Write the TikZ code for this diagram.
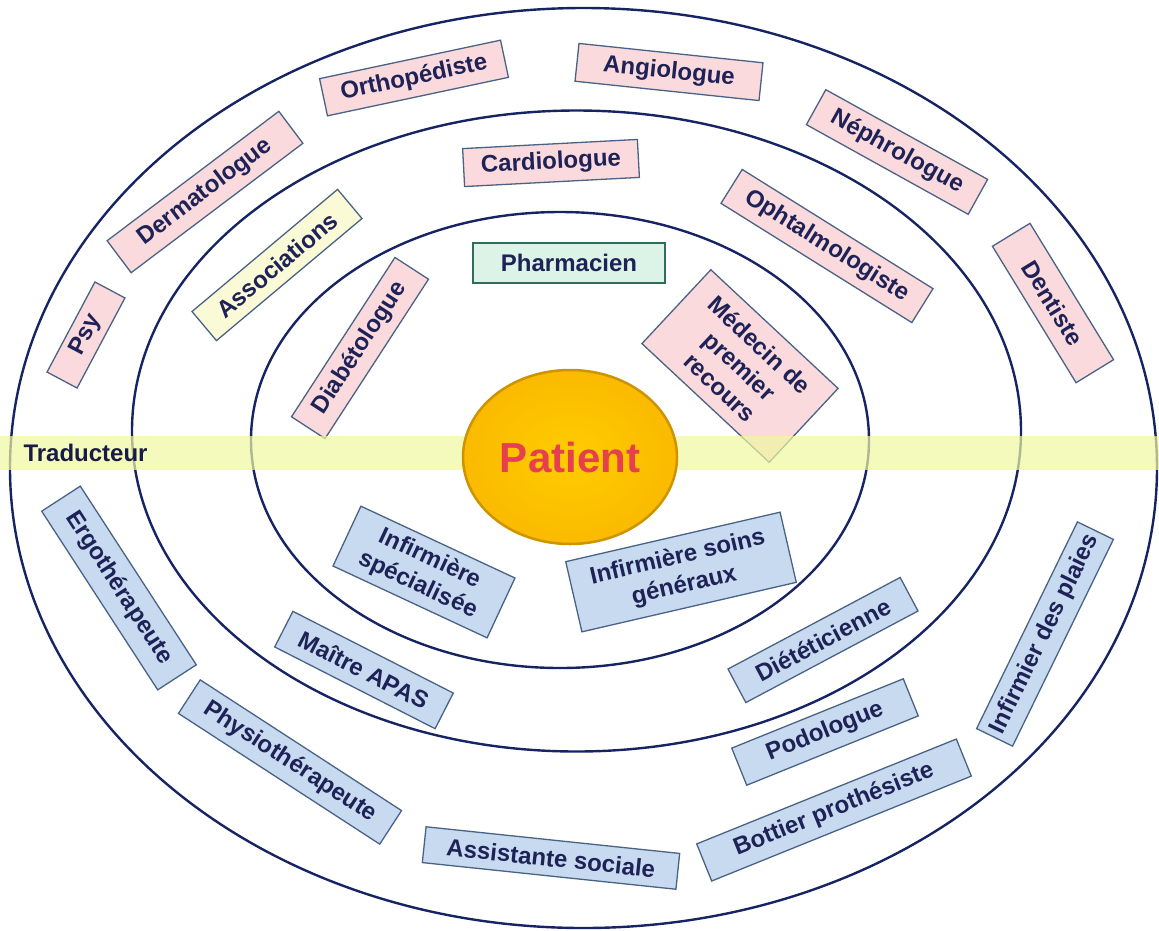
\documentclass[tikz,border=0pt]{standalone}
\usepackage{fontspec}
\setmainfont{Liberation Sans}
\usetikzlibrary{shapes.geometric}
\usetikzlibrary{positioning}

\definecolor{ringblue}{RGB}{22,36,100}
\definecolor{txtblue}{RGB}{30,34,86}
\definecolor{edgeblue}{RGB}{74,98,134}
\definecolor{pinkfill}{RGB}{250,218,220}
\definecolor{bluefill}{RGB}{199,218,240}
\definecolor{greenfill}{RGB}{220,243,231}
\definecolor{greenedge}{RGB}{48,108,92}
\definecolor{yellowfill}{RGB}{250,250,214}
\definecolor{bandyellow}{RGB}{240,247,160}
\definecolor{goldin}{RGB}{255,204,0}
\definecolor{goldout}{RGB}{250,186,0}
\definecolor{goldedge}{RGB}{206,148,0}
\definecolor{patientred}{RGB}{230,64,80}

\begin{document}
\begin{tikzpicture}[x=1pt,y=-1pt,
    ring/.style={draw=ringblue, line width=2.4pt},
    prof/.style={draw=edgeblue, line width=1.3pt, text=txtblue, inner sep=0pt,
        align=center, font=\fontsize{24}{29}\selectfont\bfseries},
    spec/.style={prof, fill=pinkfill},
    care/.style={prof, fill=bluefill}]
    \useasboundingbox (0,0) rectangle (1159,930);

    % Rings
    \draw[ring] (583.5,468) ellipse (573.5 and 460);
    \draw[ring] (576.5,431) ellipse (444.5 and 320.5);
    \draw[ring] (560,440) ellipse (309 and 228);

    % Specialists (upper half)
    \node[spec, minimum width=185pt, minimum height=38pt, rotate=12] (ortho) at (414,78) {Orthopédiste};
    \node[spec, minimum width=185pt, minimum height=38pt, rotate=-6] (angio) at (669,72) {Angiologue};
    \node[spec, minimum width=185pt, minimum height=40pt, rotate=-29] (nephro) at (897,152) {Néphrologue};
    \node[spec, minimum width=215pt, minimum height=40pt, rotate=37] (dermato) at (205,192) {Dermatologue};
    \node[spec, minimum width=175pt, minimum height=38pt, rotate=3] (cardio) at (551,163) {Cardiologue};
    \node[spec, minimum width=225pt, minimum height=40pt, rotate=-32] (ophtalmo) at (827,246) {Ophtalmologiste};
    \node[spec, minimum width=160pt, minimum height=44pt, rotate=-58.5] (dentiste) at (1053,303) {Dentiste};
    \node[spec, minimum width=102pt, minimum height=34pt, rotate=62] (psy) at (86,335) {Psy};
    \node[prof, fill=yellowfill, minimum width=190pt, minimum height=38pt, rotate=40] (assoc) at (277,265) {Associations};
    \node[prof, fill=greenfill, draw=greenedge, minimum width=192pt, minimum height=40pt] (pharma) at (569,263) {Pharmacien};
    \node[spec, minimum width=190pt, minimum height=40pt, rotate=57] (diabeto) at (360,348) {Diabétologue};
    \node[spec, minimum width=174pt, minimum height=101pt, rotate=-43] (medecin) at (740,366) {Médecin de\\premier\\recours};

    % Care team (lower half)
    \node[care, minimum width=170pt, minimum height=66pt, rotate=-25] (infspec) at (424,572) {Infirmière\\spécialisée};
    \node[care, minimum width=220pt, minimum height=72pt, rotate=13] (infsoins) at (681,572) {Infirmière soins\\généraux};
    \node[care, minimum width=213pt, minimum height=46pt, rotate=-57] (ergo) at (119,588) {Ergothérapeute};
    \node[care, minimum width=180pt, minimum height=40pt, rotate=-27] (apas) at (364,670) {Maître APAS};
    \node[care, minimum width=195pt, minimum height=38pt, rotate=28] (diet) at (823,640) {Diététicienne};
    \node[care, minimum width=240pt, minimum height=40pt, rotate=-33] (physio) at (290,762) {Physiothérapeute};
    \node[care, minimum width=185pt, minimum height=40pt, rotate=22] (podo) at (825,732) {Podologue};
    \node[care, minimum width=230pt, minimum height=40pt, rotate=64] (plaies) at (1045,634) {Infirmier des plaies};
    \node[care, minimum width=280pt, minimum height=40pt, rotate=22] (bottier) at (834,810) {Bottier prothésiste};
    \node[care, minimum width=255pt, minimum height=36pt, rotate=-6] (social) at (551,858) {Assistante sociale};

    % Translator band
    \fill[bandyellow, opacity=0.7] (0,436) rectangle (1159,470);
    \node[anchor=west, text=txtblue!80!black, font=\fontsize{24}{26}\selectfont\bfseries] (trad) at (20,453) {Traducteur};

    % Patient
    \node[ellipse, draw=goldedge, line width=2.5pt, inner color=goldin, outer color=goldout,
        minimum width=214pt, minimum height=174pt, text=patientred,
        font=\fontsize{42}{44}\selectfont\bfseries] (patient) at (570,457) {Patient};
\end{tikzpicture}
\end{document}
